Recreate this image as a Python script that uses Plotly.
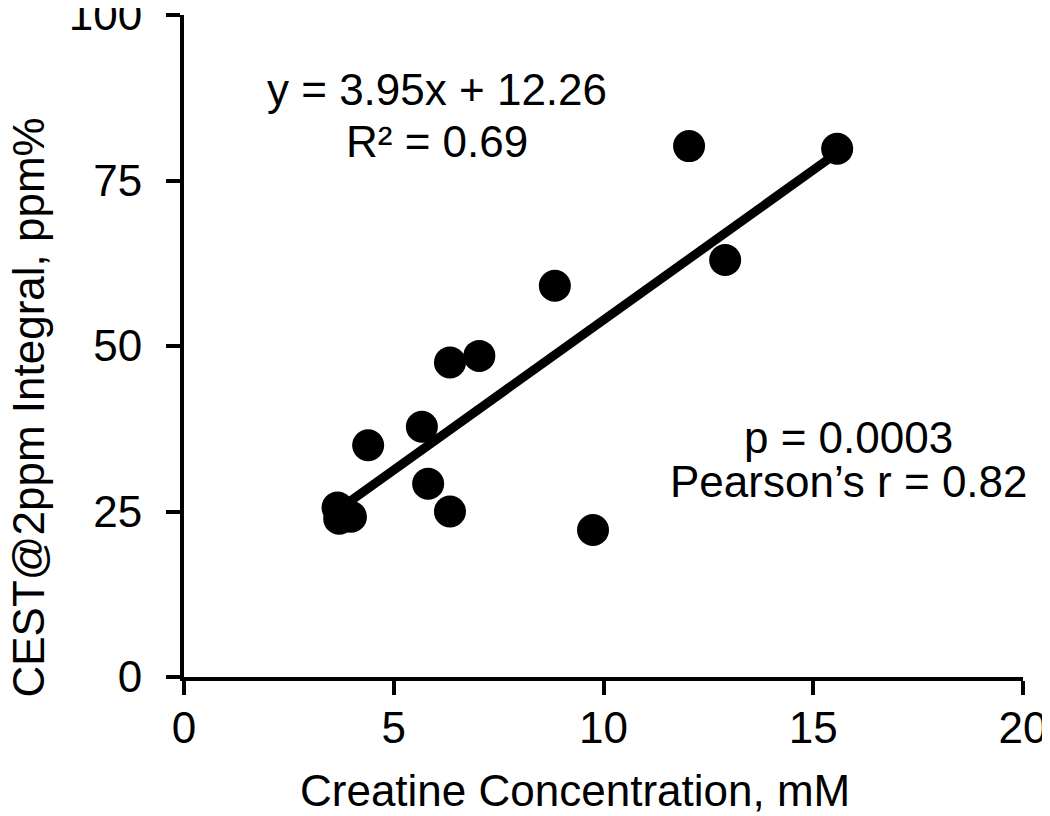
import numpy as np
import plotly.graph_objects as go

# Data
creatine_mM = [15.57, 12.04, 12.90, 8.84, 7.04, 6.34, 5.67, 4.39, 5.82, 6.34, 3.66, 3.70, 3.98, 9.75]
cest_integral = [79.8, 80.2, 63.0, 59.1, 48.5, 47.5, 37.8, 35.0, 29.2, 25.0, 25.6, 23.9, 24.2, 22.2]

x_ticks = [0, 5, 10, 15, 20]
y_ticks = [0, 25, 50, 75, 100]

x_title = "Creatine Concentration, mM"
y_title = "CEST@2ppm Integral, ppm%"
eq_text = "y = 3.95x + 12.26"
r2_text = "R² = 0.69"
p_text = "p = 0.0003"
r_text = "Pearson’s r = 0.82"

# Least-squares trend line through the plotted points
slope, intercept = np.polyfit(creatine_mM, cest_integral, 1)
x_line = [min(creatine_mM), max(creatine_mM)]
y_line = [slope * v + intercept for v in x_line]

FONT = "Liberation Sans, Arial, sans-serif"
TICKFONT = dict(size=44, family=FONT, color="black")

fig = go.Figure()
fig.add_trace(go.Scatter(
    x=x_line, y=y_line, mode="lines",
    line=dict(color="black", width=9),
    showlegend=False, hoverinfo="skip",
))
fig.add_trace(go.Scatter(
    x=creatine_mM, y=cest_integral, mode="markers",
    marker=dict(color="black", size=32, line=dict(width=0)),
    showlegend=False,
))

axis_common = dict(
    showgrid=False, zeroline=False, automargin=False,
    showline=True, linecolor="black", linewidth=4,
    ticks="outside", ticklen=14, tickwidth=4, tickcolor="black",
    tickfont=TICKFONT, ticklabeloverflow="allow",
)

# The page body has an 8px margin, so the figure is 8px smaller than the window
fig.update_layout(
    width=1042, height=808,
    margin=dict(l=176, r=27, t=7, b=139),
    paper_bgcolor="white", plot_bgcolor="white",
    font=dict(family=FONT, color="black", size=44),
    xaxis=dict(range=[0, 20], tickvals=x_ticks, ticktext=[str(v) for v in x_ticks],
               ticklabelstandoff=-5, **axis_common),
    yaxis=dict(range=[0, 100], tickvals=y_ticks, ticktext=[str(v) for v in y_ticks],
               ticklabelstandoff=15, **axis_common),
    annotations=[
        dict(x=0.466, y=-0.1707, xref="paper", yref="paper", text=x_title, showarrow=False,
             font=dict(size=44, family=FONT), xanchor="center", yanchor="middle"),
        dict(x=-0.1848, y=0.407, xref="paper", yref="paper", text=y_title, showarrow=False,
             textangle=-90, font=dict(size=44, family=FONT), xanchor="center", yanchor="middle"),
        dict(x=6.04, y=88.75, xref="x", yref="y", text=eq_text, showarrow=False,
             font=dict(size=44, family=FONT), xanchor="center", yanchor="middle"),
        dict(x=6.04, y=80.9, xref="x", yref="y", text=r2_text, showarrow=False,
             font=dict(size=44, family=FONT), xanchor="center", yanchor="middle"),
        dict(x=15.85, y=36.25, xref="x", yref="y", text=p_text, showarrow=False,
             font=dict(size=44, family=FONT), xanchor="center", yanchor="middle"),
        dict(x=15.85, y=29.46, xref="x", yref="y", text=r_text, showarrow=False,
             font=dict(size=44, family=FONT), xanchor="center", yanchor="middle"),
    ],
)

fig.write_html("out.html")
